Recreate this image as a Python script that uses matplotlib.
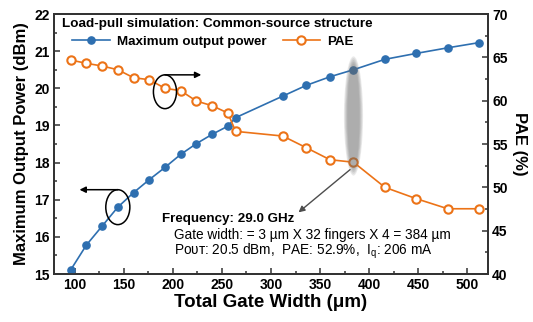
import matplotlib
matplotlib.use("Agg")
import matplotlib.pyplot as plt
from matplotlib.patches import Ellipse
from matplotlib.ticker import MultipleLocator

plt.rcParams['font.family'] = ['Liberation Sans', 'DejaVu Sans']
plt.rcParams['mathtext.fontset'] = 'custom'
plt.rcParams['mathtext.rm'] = 'Liberation Sans'
plt.rcParams['mathtext.it'] = 'Liberation Sans:italic'

# Load-pull sweep: total gate width (um) vs. max output power (dBm) and PAE (%)
gate_width = [96, 112, 128, 144, 160, 176, 192, 208, 224, 240, 256, 264,
              312, 336, 360, 384, 416, 448, 480, 512]
pout = [15.11, 15.78, 16.29, 16.80, 17.19, 17.54, 17.87, 18.22, 18.51, 18.76,
        18.98, 19.21, 19.79, 20.08, 20.31, 20.50, 20.78, 20.94, 21.09, 21.23]
pae = [64.69, 64.31, 64.00, 63.57, 62.65, 62.42, 61.43, 61.15, 59.96, 59.42,
       58.58, 56.46, 55.92, 54.57, 53.19, 52.90, 50.00, 48.69, 47.53, 47.53]

x_ticks = [100, 150, 200, 250, 300, 350, 400, 450, 500]
pout_ticks = [15, 16, 17, 18, 19, 20, 21, 22]
pae_ticks = [40, 45, 50, 55, 60, 65, 70]

BLUE = '#2e6fb0'
ORANGE = '#ec7317'
SPINE = '#333333'

fig = plt.figure(figsize=(5.33, 3.22), dpi=100)
ax = fig.add_axes([0.1013, 0.149, 0.8143, 0.8075])
ax2 = ax.twinx()

l1, = ax.plot(gate_width, pout, '-o', color=BLUE, lw=1.2, ms=5.2,
              mfc=BLUE, mec=BLUE, label='Maximum output power', zorder=3)
l2, = ax2.plot(gate_width, pae, '-o', color=ORANGE, lw=1.2, ms=6,
               mfc='white', mec=ORANGE, mew=1.5, label='PAE', zorder=3)

ax.set_xlim(79, 521)
ax.set_ylim(15, 22)
ax2.set_ylim(40, 70)
ax.set_xticks(x_ticks)
ax.set_yticks(pout_ticks)
ax2.set_yticks(pae_ticks)
ax.xaxis.set_minor_locator(MultipleLocator(25))
ax.yaxis.set_minor_locator(MultipleLocator(0.5))
ax2.yaxis.set_minor_locator(MultipleLocator(2.5))

for a in (ax, ax2):
    for s in a.spines.values():
        s.set_linewidth(1.3)
        s.set_color(SPINE)
ax.tick_params(which='both', direction='in', top=False, right=False,
               width=1.1, color=SPINE, labelsize=10, pad=3)
ax.tick_params(which='major', length=4)
ax.tick_params(which='minor', length=2.5)
ax2.tick_params(which='both', direction='in', width=1.1, color=SPINE,
                labelsize=10, pad=3)
ax2.tick_params(which='major', length=4)
ax2.tick_params(which='minor', length=2.5)
for lab in ax.get_xticklabels() + ax.get_yticklabels() + ax2.get_yticklabels():
    lab.set_fontweight('bold')

ax.set_xlabel('Total Gate Width (\u03bcm)', fontsize=13.5, fontweight='bold', labelpad=1)
ax.set_ylabel('Maximum Output Power (dBm)', fontsize=12, fontweight='bold', labelpad=4)
ax2.set_ylabel('PAE (%)', fontsize=12, fontweight='bold', rotation=270, labelpad=14)

ax.text(0.018, 0.962, 'Load-pull simulation: Common-source structure',
        transform=ax.transAxes, fontsize=9.7, fontweight='bold', va='center', ha='left')
ax2.legend([l1, l2], [l1.get_label(), l2.get_label()], loc='center left',
           bbox_to_anchor=(0.042, 0.893), ncol=2, frameon=False,
           prop={'weight': 'bold', 'size': 9.6}, handlelength=2.8,
           handletextpad=0.55, columnspacing=1.2, borderpad=0, borderaxespad=0)

# conversion of PAE values into the left-axis scale
def pae_on_left(v):
    y0, y1 = ax.get_ylim()
    p0, p1 = ax2.get_ylim()
    return y0 + (v - p0) * (y1 - y0) / (p1 - p0)

# ellipse + arrow marking the PAE curve (right axis)
i_pae = 6
e_cx, e_cy = gate_width[i_pae], pae[i_pae] - 0.4
e_w, e_h = 23.5, 3.9
ax2.add_patch(Ellipse((e_cx, e_cy), e_w, e_h, fill=False, ec='black', lw=1.1, zorder=4))
ax2.annotate('', xy=(e_cx + 37, e_cy + e_h / 2), xytext=(e_cx, e_cy + e_h / 2),
             arrowprops=dict(arrowstyle='-|>', color='black', lw=1.1,
                             mutation_scale=9, shrinkA=0, shrinkB=0))

# ellipse + arrow marking the output-power curve (left axis)
i_pw = 3
b_cx, b_cy = gate_width[i_pw], pout[i_pw]
b_w, b_h = 24.5, 0.94
ax.add_patch(Ellipse((b_cx, b_cy), b_w, b_h, fill=False, ec='black', lw=1.1, zorder=4))
ax.annotate('', xy=(b_cx - 39, b_cy + b_h / 2), xytext=(b_cx, b_cy + b_h / 2),
            arrowprops=dict(arrowstyle='-|>', color='black', lw=1.1,
                            mutation_scale=9, shrinkA=0, shrinkB=0))

# soft grey highlight of the selected 384 um design
i_sel = 15
top = pout[i_sel]
bot = pae_on_left(pae[i_sel])
g_cx, g_cy = gate_width[i_sel], (top + bot) / 2
g_w, g_h = 19.5, (top - bot) + 0.72
for k in range(5):
    f = 1.0 - 0.09 * k
    ax2.add_patch(Ellipse((g_cx, g_cy), g_w * f, g_h * (1.0 - 0.03 * k),
                          transform=ax.transData, fc='#6a6a6a', ec='none',
                          alpha=0.14, zorder=5))
ax2.annotate('', xy=(g_cx - 56, bot - 1.35), xytext=(g_cx - 3.5, bot - 0.2),
             xycoords=ax.transData, textcoords=ax.transData,
             arrowprops=dict(arrowstyle='-|>', color='#4d4d4d', lw=1.0,
                             mutation_scale=9, shrinkA=0, shrinkB=0), zorder=6)

ax.text(189.5, 16.48, 'Frequency: 29.0 GHz', fontsize=9.6, fontweight='bold',
        va='center', ha='left')
ax.text(201.5, 16.05, 'Gate width: = 3 \u00b5m X 32 fingers X 4 = 384 \u00b5m',
        fontsize=9.8, va='center', ha='left')
ax.text(201.5, 15.62, 'P\u1d0f\u1d1c\u1d1b: 20.5 dBm,  PAE: 52.9%,  I$_\\mathrm{q}$: 206 mA',
        fontsize=9.8, va='center', ha='left')

fig.savefig('out.png', dpi=100)
